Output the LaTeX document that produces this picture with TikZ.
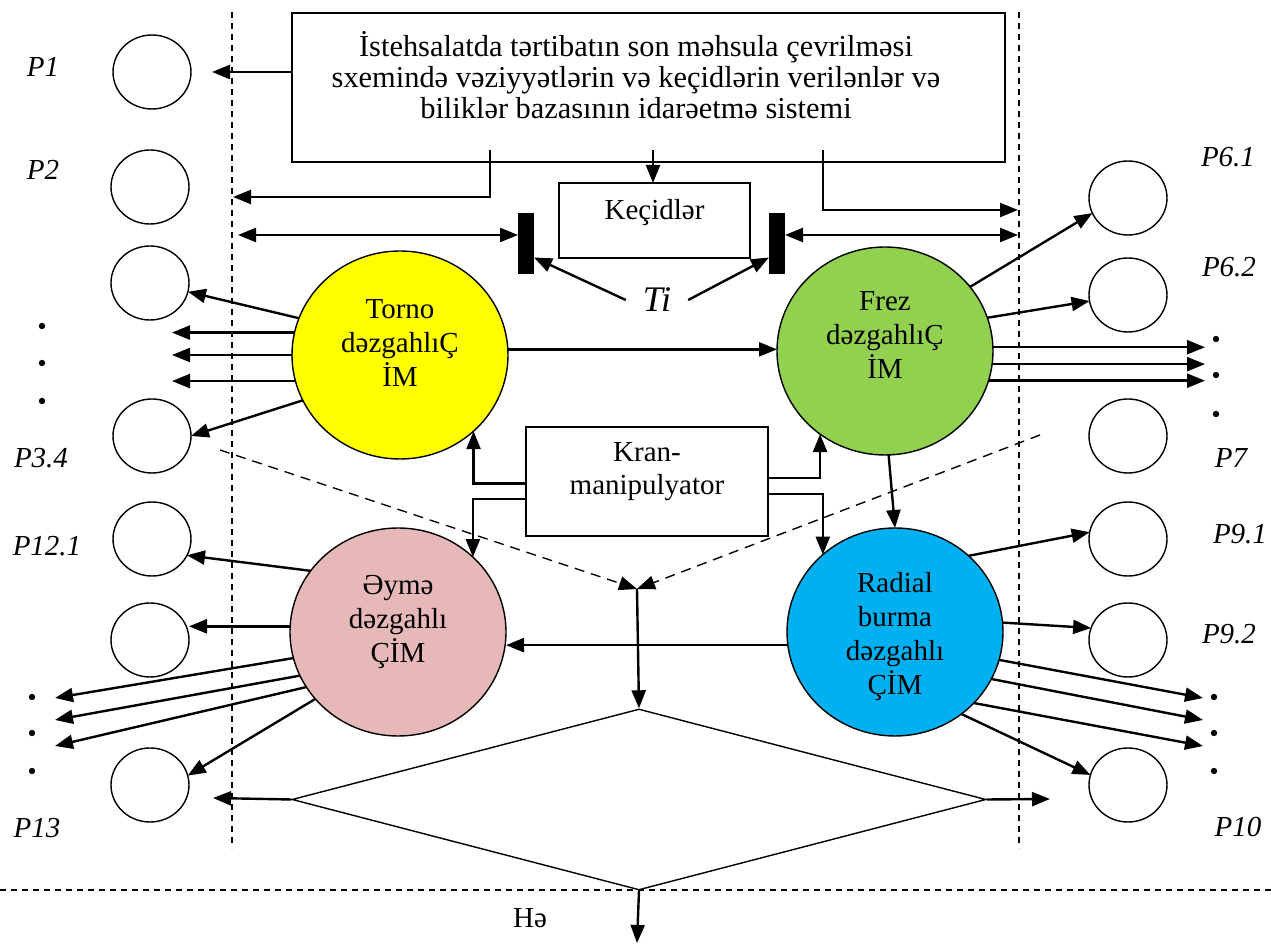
\documentclass[tikz,border=0pt]{standalone}
\usepackage{fontspec}
\setmainfont{Liberation Serif}
\usetikzlibrary{arrows.meta,calc,shapes.geometric}

\definecolor{tornoC}{HTML}{FFFF00}
\definecolor{frezC}{HTML}{92D050}
\definecolor{eymeC}{HTML}{E6B8B7}
\definecolor{radialC}{HTML}{00B0F0}

\begin{document}
\begin{tikzpicture}[x=0.5pt, y=-0.5pt, >={Triangle[length=9pt,width=7pt]}, line width=1.2pt,
		font=\fontsize{14.5}{17}\selectfont,
		place/.style={draw, ellipse, line width=0.7pt, inner sep=0pt, outer sep=0pt, minimum width=39pt, minimum height=37pt},
		cim/.style={draw, ellipse, line width=0.7pt, inner sep=0pt, outer sep=0pt, minimum width=108pt, minimum height=104pt},
		plabel/.style={font=\fontsize{14.5}{17}\selectfont\itshape, inner sep=0pt},
		box/.style={draw, rectangle, line width=0.9pt, inner sep=0pt, outer sep=0pt},
		ctext/.style={align=center, inner sep=0pt},
		bar/.style={fill=black, inner sep=0pt, outer sep=0pt, minimum width=8pt, minimum height=30.5pt},
		guide/.style={line width=0.7pt, dash pattern=on 3pt off 2.5pt},
		flow/.style={line width=0.7pt, dash pattern=on 5pt off 3.5pt}]
				\useasboundingbox (0,0) rectangle (1271,945);
				% dashed borders
				\draw[guide] (232,12) -- (232,848);
				\draw[guide] (1019,12) -- (1019,848);
				\draw[guide] (0,890) -- (1271,890);
				% top system box
				\node[box, minimum width=356.5pt, minimum height=74.5pt] (sys) at (648.5,87.5) {};
				\node[ctext, font=\fontsize{15.2}{15.4}\selectfont] (systxt) at (636,75) {İstehsalatda tərtibatın son məhsula çevrilməsi\\sxemində vəziyyətlərin və keçidlərin verilənlər və\\biliklər bazasının idarəetmə sistemi};
				\node[box, minimum width=95.5pt, minimum height=37.5pt] (kec) at (654.5,220.5) {};
				\node[ctext] (kectxt) at ([yshift=4pt]kec) {Keçidlər};
				\node[bar] (barL) at (526,243.5) {};
				\node[bar] (barR) at (777,243.5) {};
				\node[plabel, font=\fontsize{18}{20}\selectfont\itshape, inner sep=8pt] (ti) at (657,300) {Ti};
				\node[box, minimum width=121pt, minimum height=54.5pt] (kran) at (647,481.5) {};
				\node[ctext, font=\fontsize{14.5}{16.5}\selectfont] (krantxt) at ([yshift=5pt]kran) {Kran-\\manipulyator};
				% machines
				\node[cim, fill=tornoC] (torno) at (400,355) {};
				\node[cim, fill=frezC] (frez) at (885,351) {};
				\node[cim, fill=eymeC] (eyme) at (398,632) {};
				\node[cim, fill=radialC] (radial) at (895,632) {};
				\node[ctext] (tornotxt) at ([yshift=6pt]torno) {Torno\\dəzgahlıÇ\\İM};
				\node[ctext] (freztxt) at ([yshift=8pt]frez) {Frez\\dəzgahlıÇ\\İM};
				\node[ctext] (eymetxt) at ([yshift=5pt]eyme) {Əymə\\dəzgahlı\\ÇİM};
				\node[ctext] (radialtxt) at ([yshift=-2.5pt]radial) {Radial\\burma\\dəzgahlı\\ÇİM};
				% places
				\node[place] (p1)   at (152,72)   {};
				\node[place] (p2)   at (150,187)  {};
				\node[place] (p3)   at (150,283)  {};
				\node[place] (p34)  at (152,436)  {};
				\node[place] (p121) at (152,539)  {};
				\node[place] (p12b) at (150,640)  {};
				\node[place] (p13)  at (150,785)  {};
				\node[place] (p61)  at (1128,198) {};
				\node[place] (p62)  at (1128,295) {};
				\node[place] (p7)   at (1128,436) {};
				\node[place] (p91)  at (1128,539) {};
				\node[place] (p92)  at (1128,640) {};
				\node[place] (p10)  at (1128,785) {};
				\node[plabel] (lp1)   at (43,67)    {P1};
				\node[plabel] (lp2)   at (43,170)   {P2};
				\node[plabel] (lp34)  at (41,458)   {P3.4};
				\node[plabel] (lp121) at (47,546)   {P12.1};
				\node[plabel] (lp13)  at (37,828)   {P13};
				\node[plabel] (lp61)  at (1228,157) {P6.1};
				\node[plabel] (lp62)  at (1229,267) {P6.2};
				\node[plabel] (lp7)   at (1231,458) {P7};
				\node[plabel] (lp91)  at (1240,534) {P9.1};
				\node[plabel] (lp92)  at (1229,634) {P9.2};
				\node[plabel] (lp10)  at (1238,827) {P10};
				\foreach \y in {326,363,401} \fill (42,\y) circle (1.6pt);
				\foreach \y in {697,733,771} \fill (32,\y) circle (1.6pt);
				\foreach \y in {339,375,414} \fill (1216,\y) circle (1.6pt);
				\foreach \y in {697,733,771} \fill (1214,\y) circle (1.6pt);
				% free ends
				\coordinate (stubL) at (490,150);
				\coordinate (stubM) at (653,150);
				\coordinate (stubR) at (823,150);
				\coordinate (toL)   at (233,197);
				\coordinate (toR)   at (1018,210);
				\coordinate (dblL)  at (238,235);
				\coordinate (dblR)  at (1018,235);
				\coordinate (tipL)  at (172,0);
				\coordinate (tipR)  at (1205,0);
				\coordinate (dotA)  at (55,698);
				\coordinate (dotB)  at (55,720);
				\coordinate (dotC)  at (55,746);
				\coordinate (dotD)  at (1203,698);
				\coordinate (dotE)  at (1203,720);
				\coordinate (dotF)  at (1203,746);
				\coordinate (dashL) at (220,450);
				\coordinate (dashR) at (1040,435);
				\coordinate (merge) at (637,589);
				\coordinate (outL)  at (213,798);
				\coordinate (outR)  at (1050,799);
				\coordinate (outB)  at (637,943);
				% system box links
				\draw[->, shorten >=10.5pt] (sys.west |- p1) -- (p1.east);
				\draw[->] (stubL) |- (toL);
				\draw[->] (stubM) -- (stubM |- kec.north);
				\draw[->] (stubR) |- (toR);
				\draw[<->] (dblL) -- (barL.west |- dblL);
				\draw[<->] (barR.east |- dblR) -- (dblR);
				\draw[->] (ti.west) -- ([yshift=-7pt]barL.east);
				\draw[->] (ti.east) -- ([yshift=-7pt]barR.west);
				% torno
				\draw[->] (torno.160) -- (p3.-13);
				\draw[->] (torno.168) -- (torno.168 -| tipL);
				\draw[->] (torno.180) -- (torno.180 -| tipL);
				\draw[->] (torno.194) -- (torno.194 -| tipL);
				\draw[->] (torno.205) -- (p34.east);
				\draw[->] (torno.3) -- (torno.3 -| frez.west);
				% frez
				\draw[->] (frez.37) -- (p61.203);
				\draw[->] (frez.18) -- (p62.189);
				\draw[->] (frez.2) -- (frez.2 -| tipR);
				\draw[->] (frez.-7) -- (frez.-7 -| tipR);
				\draw[->] (frez.-16) -- (frez.-16 -| tipR);
				\draw[->] (frez.272) -- (radial.north);
				% kran
				\draw[->] ([yshift=-1pt]kran.west) -| (torno.-46);
				\draw[->] ([yshift=-8.75pt]kran.west) -| (eyme.45);
				\draw[->] ([yshift=1.75pt]kran.east) -| (frez.232);
				\draw[->] ([yshift=-6.25pt]kran.east) -| (radial.133);
				% eyme
				\draw[->] (eyme.145) -- (p121.-25);
				\draw[->] (eyme.177) -- (eyme.177 -| p12b.east);
				\draw[->] (eyme.194) -- (dotA);
				\draw[->] (eyme.204) -- (dotB);
				\draw[->] (eyme.211) -- (dotC);
				\draw[->] (eyme.219) -- (p13.14);
				% radial
				\draw[->] (radial.46) -- (p91.170);
				\draw[->] (radial.5) -- (p92.162);
				\draw[->] (radial.-15) -- (dotD);
				\draw[->] (radial.-26) -- (dotE);
				\draw[->] (radial.-42) -- (dotF);
				\draw[->] (radial.-51) -- (p10.165);
				\draw[->] (radial.187) -- (radial.187 -| eyme.east);
				% decision
				\node[draw, diamond, line width=0.7pt, inner sep=0pt, minimum width=347pt, minimum height=90.5pt] (dec) at (639,799.5) {};
				\draw[->, flow] (dashL) -- (merge);
				\draw[->, flow] (dashR) -- (merge);
				\draw[->] (merge) -- (dec.north);
				\draw[->] (dec.west) -- (outL);
				\draw[->] (dec.east) -- (outR);
				\draw[->] (dec.south) -- (outB);
				\node (he) at (530,918) {Hə};
		\end{tikzpicture}
\end{document}
